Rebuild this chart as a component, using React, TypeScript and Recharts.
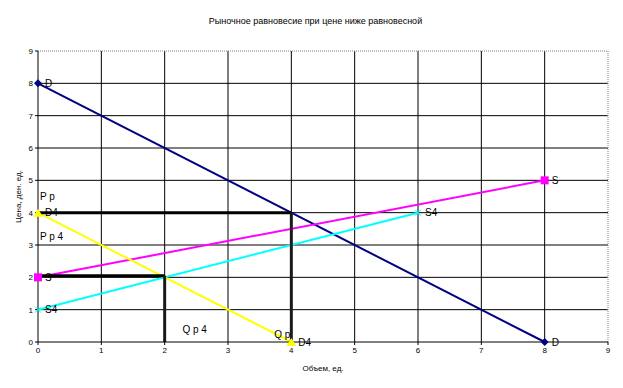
import React from "react";
import {
  CartesianGrid,
  Line,
  LineChart,
  ReferenceDot,
  ReferenceLine,
  XAxis,
  YAxis,
} from "recharts";

const title = "Рыночное равновесие при цене ниже равновесной";
const xTitle = "Объем, ед.";
const yTitle = "Цена, ден. ед.";
const axisTicks = [0, 1, 2, 3, 4, 5, 6, 7, 8, 9];
const innerTicks = [1, 2, 3, 4, 5, 6, 7, 8];

// curves
const demand = [{ x: 0, y: 8 }, { x: 8, y: 0 }];
const supply = [{ x: 0, y: 2 }, { x: 8, y: 5 }];
const supply4 = [{ x: 0, y: 1 }, { x: 6, y: 4 }];
const demand4 = [{ x: 0, y: 4 }, { x: 4, y: 0 }];

// equilibrium guides
const priceEq = [{ x: 0, y: 4 }, { x: 4, y: 4 }];
const qtyEq = [{ x: 4, y: 4 }, { x: 4, y: 0 }];
const price4 = [{ x: 0, y: 2.05 }, { x: 2, y: 2.05 }];
const qty4 = [{ x: 2, y: 2.05 }, { x: 2, y: 0 }];

const notes = [
  { x: 0.03, y: 4.5, text: "P p" },
  { x: 0.03, y: 3.25, text: "P p 4" },
  { x: 2.28, y: 0.38, text: "Q p 4" },
  { x: 3.73, y: 0.22, text: "Q p" },
];

const FONT = "'Liberation Sans', Arial, sans-serif";

type Shape = "diamond" | "square" | "cross" | "triangle";

function marker(shape: Shape, color: string, name: string) {
  return (p: any) => {
    const { cx, cy, index } = p;
    let mark;
    if (shape === "diamond")
      mark = <path d={`M${cx},${cy - 4}L${cx + 4},${cy}L${cx},${cy + 4}L${cx - 4},${cy}Z`} fill={color} />;
    else if (shape === "square")
      mark = <rect x={cx - 4} y={cy - 4} width={8} height={8} fill={color} />;
    else if (shape === "triangle")
      mark = <path d={`M${cx},${cy - 4}L${cx + 5},${cy + 4}L${cx - 5},${cy + 4}Z`} fill={color} />;
    else
      mark = (
        <path d={`M${cx - 3},${cy - 3}L${cx + 3},${cy + 3}M${cx - 3},${cy + 3}L${cx + 3},${cy - 3}`} stroke={color} strokeWidth={1} />
      );
    return (
      <g key={`${name}-${index}`}>
        {mark}
        <text x={cx + 7} y={cy + 3.5} fontSize={10} fontFamily={FONT} fill="#000">
          {name}
        </text>
      </g>
    );
  };
}

export default function App() {
  return (
    <div style={{ position: "relative", width: 615, height: 380, fontFamily: FONT }}>
      <div
        style={{
          position: "absolute",
          top: 8,
          left: 0,
          width: 615,
          textAlign: "center",
          fontSize: 9,
          zIndex: 1,
        }}
      >
        {title}
      </div>
      <LineChart width={615} height={380} margin={{ top: 43, right: 15, left: 0, bottom: 0 }}>
        <CartesianGrid
          stroke="#000"
          strokeWidth={1}
          horizontalValues={innerTicks}
          verticalValues={innerTicks}
        />
        <XAxis
          type="number"
          dataKey="x"
          domain={[0, 9]}
          ticks={axisTicks}
          tickSize={3}
          height={46}
          stroke="#000"
          tick={{ fontSize: 8, fill: "#000", fontFamily: FONT }}
          label={{ value: xTitle, position: "insideBottom", offset: 17, fontSize: 8, fill: "#000" }}
        />
        <YAxis
          type="number"
          dataKey="y"
          domain={[0, 9]}
          ticks={axisTicks}
          tickSize={3}
          width={30}
          stroke="#000"
          tick={{ fontSize: 8, fill: "#000", fontFamily: FONT }}
          label={{
            value: yTitle,
            angle: -90,
            position: "insideLeft",
            offset: 10,
            fontSize: 8,
            fill: "#000",
            style: { textAnchor: "middle" },
          }}
        />
        <ReferenceLine y={9} stroke="#808080" strokeDasharray="1 1" />
        <ReferenceLine x={9} stroke="#808080" strokeDasharray="1 1" />
        <Line data={demand} dataKey="y" stroke="#000080" strokeWidth={2} dot={marker("diamond", "#000080", "D")} isAnimationActive={false} />
        <Line data={supply} dataKey="y" stroke="#FF00FF" strokeWidth={2} dot={marker("square", "#FF00FF", "S")} isAnimationActive={false} />
        <Line data={supply4} dataKey="y" stroke="#00FFFF" strokeWidth={2} dot={marker("cross", "#00FFFF", "S4")} isAnimationActive={false} />
        <Line data={demand4} dataKey="y" stroke="#FFFF00" strokeWidth={2} dot={marker("triangle", "#FFFF00", "D4")} isAnimationActive={false} />
        <Line data={priceEq} dataKey="y" stroke="#000" strokeWidth={3} dot={false} isAnimationActive={false} />
        <Line data={qtyEq} dataKey="y" stroke="#1a1a1a" strokeWidth={3} dot={false} isAnimationActive={false} />
        <Line data={price4} dataKey="y" stroke="#000" strokeWidth={3} dot={false} isAnimationActive={false} />
        <Line data={qty4} dataKey="y" stroke="#1a1a1a" strokeWidth={3} dot={false} isAnimationActive={false} />
        {notes.map((n) => (
          <ReferenceDot
            key={n.text}
            x={n.x}
            y={n.y}
            r={0}
            stroke="none"
            label={{ value: n.text, position: "right", offset: 0, fontSize: 10, fill: "#000", fontFamily: FONT }}
          />
        ))}
      </LineChart>
    </div>
  );
}
